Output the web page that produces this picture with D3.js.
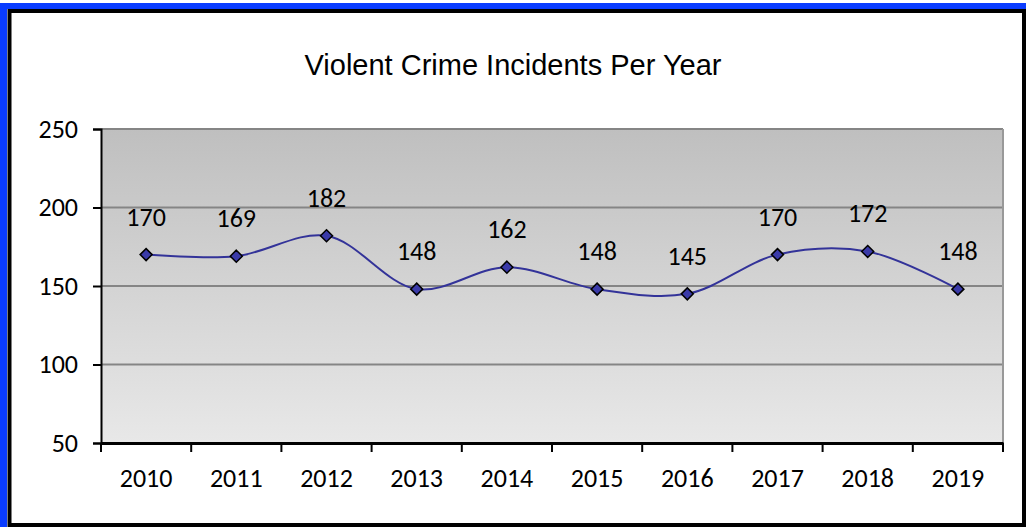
<!DOCTYPE html>
<html>
<head>
<meta charset="utf-8">
<script src="https://cdn.jsdelivr.net/npm/d3@7"></script>
<style>
  body { margin: 0; background: #fff; }
  svg { display: block; }
</style>
</head>
<body>
<div id="chart"></div>
<script>
// chart data
const years = ['2010', '2011', '2012', '2013', '2014', '2015', '2016', '2017', '2018', '2019'];
const incidents = [170, 169, 182, 148, 162, 148, 145, 170, 172, 148];
const yTicks = [50, 100, 150, 200, 250];
const chartTitle = 'Violent Crime Incidents Per Year';

const W = 1026, H = 527;
const margin = { top: 129, right: 23, bottom: 84, left: 101 };
const width = W - margin.left - margin.right;
const height = H - margin.top - margin.bottom;
const labelFont = 'Carlito, Lato, sans-serif';

const root = d3.select('#chart')
    .append('svg')
    .attr('width', W)
    .attr('height', H);

// outer frame: blue on left/top, black inside
root.append('rect').attr('x', 0).attr('y', 3).attr('width', 7).attr('height', H - 3).attr('fill', '#0a3cff');
root.append('rect').attr('x', 0).attr('y', 3).attr('width', W).attr('height', 6).attr('fill', '#0a3cff');
root.append('rect')
    .attr('x', 9.5).attr('y', 11)
    .attr('width', W - 11.5).attr('height', H - 13)
    .attr('fill', '#fff')
    .attr('stroke', '#000')
    .attr('stroke-width', 4);

// gradient for the plot area
const defs = root.append('defs');
const grad = defs.append('linearGradient')
    .attr('id', 'plotBg')
    .attr('x1', 0).attr('y1', 0).attr('x2', 0).attr('y2', 1);
grad.append('stop').attr('offset', '0%').attr('stop-color', '#bfbfbf');
grad.append('stop').attr('offset', '100%').attr('stop-color', '#e8e8e8');

// title
root.append('text')
    .attr('x', W / 2)
    .attr('y', 75)
    .attr('text-anchor', 'middle')
    .attr('font-family', 'Arial, Liberation Sans, Arimo, sans-serif')
    .attr('font-size', '29px')
    .attr('fill', '#000')
    .text(chartTitle);

const svg = root.append('g')
    .attr('transform', `translate(${margin.left},${margin.top})`);

// scales
const x = d3.scaleBand()
    .domain(years)
    .range([0, width])
    .padding(0);

const y = d3.scaleLinear()
    .domain([50, 250])
    .range([height, 0]);

// plot background
svg.append('rect')
    .attr('width', width)
    .attr('height', height)
    .attr('fill', 'url(#plotBg)');

// grid lines
svg.append('g')
    .selectAll('line')
    .data(yTicks.filter(d => d > 50))
    .enter()
    .append('line')
    .attr('x1', 0)
    .attr('x2', width)
    .attr('y1', d => y(d))
    .attr('y2', d => y(d))
    .attr('stroke', '#858585')
    .attr('stroke-width', 2);

// right border of plot area
svg.append('line')
    .attr('x1', width).attr('x2', width)
    .attr('y1', 0).attr('y2', height)
    .attr('stroke', '#999')
    .attr('stroke-width', 2);

// y axis
const yAxis = svg.append('g')
    .call(d3.axisLeft(y).tickValues(yTicks).tickSize(8).tickPadding(15));
yAxis.select('.domain').attr('stroke', '#000').attr('stroke-width', 2);
yAxis.selectAll('line').attr('stroke', '#000').attr('stroke-width', 2);
yAxis.selectAll('text')
    .attr('font-family', labelFont)
    .attr('font-size', '26px')
    .attr('fill', '#000');

// x axis: ticks at category boundaries
const xAxis = svg.append('g')
    .attr('transform', `translate(0,${height})`)
    .call(d3.axisBottom(x).tickSize(0).tickPadding(26));
xAxis.select('.domain').attr('stroke', '#000').attr('stroke-width', 3);
xAxis.selectAll('text')
    .attr('font-family', labelFont)
    .attr('font-size', '26px')
    .attr('fill', '#000');
xAxis.append('g')
    .selectAll('line')
    .data(years.map(d => x(d)).concat([width]))
    .enter()
    .append('line')
    .attr('x1', d => d).attr('x2', d => d)
    .attr('y1', 0).attr('y2', 9)
    .attr('stroke', '#000')
    .attr('stroke-width', 2);

// data line
const pts = years.map((yr, i) => ({ year: yr, value: incidents[i] }));
const line = d3.line()
    .x(d => x(d.year) + x.bandwidth() / 2)
    .y(d => y(d.value))
    .curve(d3.curveCatmullRom.alpha(0.5));

svg.append('path')
    .datum(pts)
    .attr('d', line)
    .attr('fill', 'none')
    .attr('stroke', '#333399')
    .attr('stroke-width', 2);

// diamond markers
svg.append('g')
    .selectAll('path')
    .data(pts)
    .enter()
    .append('path')
    .attr('transform', d => `translate(${x(d.year) + x.bandwidth() / 2},${y(d.value)})`)
    .attr('d', 'M0,-6L6,0L0,6L-6,0Z')
    .attr('fill', '#3a3aa8')
    .attr('stroke', '#000')
    .attr('stroke-width', 1.5);

// value labels
svg.append('g')
    .selectAll('text')
    .data(pts)
    .enter()
    .append('text')
    .attr('x', d => x(d.year) + x.bandwidth() / 2)
    .attr('y', d => y(d.value) - 29)
    .attr('text-anchor', 'middle')
    .attr('font-family', labelFont)
    .attr('font-size', '26px')
    .attr('fill', '#000')
    .text(d => d.value);
</script>
</body>
</html>
